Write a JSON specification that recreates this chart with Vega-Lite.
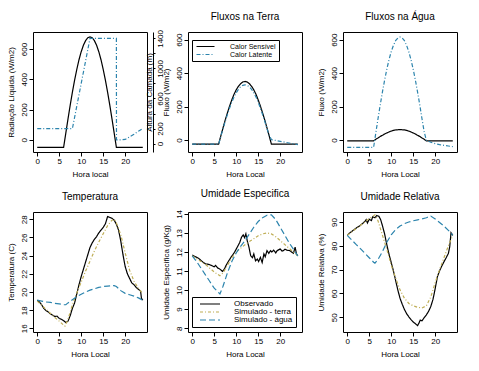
{
"$schema": "https://vega.github.io/schema/vega-lite/v6.json",
"padding": {"left": 6, "top": 11, "right": 5, "bottom": 5},
"background": "white",
"bounds": "flush",
"columns": 3,
"spacing": {"row": 60, "column": 41},
"resolve": {"scale": {"color": "independent", "strokeDash": "independent"}, "legend": {"color": "independent", "strokeDash": "independent"}},
"config": {
  "font": "Liberation Sans Narrow, Liberation Sans",
  "numberFormat": "d",
  "view": {"stroke": "black", "strokeWidth": 1},
  "axis": {"domain": false, "grid": false, "tickColor": "black", "tickSize": 4, "tickWidth": 1, "labelColor": "black", "titleColor": "black", "labelFontSize": 8, "titleFontSize": 8, "titleFontWeight": "normal", "labelPadding": 1, "titlePadding": 5},
  "axisY": {"labelAngle": 270},
  "axisX": {"labelAngle": 0},
  "title": {"fontSize": 10, "fontWeight": "normal", "color": "black", "offset": 10},
  "line": {"strokeWidth": 1.2}
},
"datasets": {
  "p1a": [
    {"h":0,"v":-50},{"h":1,"v":-50},{"h":2,"v":-50},{"h":3,"v":-50},{"h":4,"v":-50},{"h":5,"v":-50},{"h":6,"v":-50},
    {"h":6.5,"v":45},{"h":7,"v":139},{"h":7.5,"v":229},{"h":8,"v":315},{"h":8.5,"v":394},{"h":9,"v":466},{"h":9.5,"v":529},
    {"h":10,"v":582},{"h":10.5,"v":624},{"h":11,"v":655},{"h":11.5,"v":674},{"h":12,"v":680},{"h":12.5,"v":674},{"h":13,"v":655},
    {"h":13.5,"v":624},{"h":14,"v":582},{"h":14.5,"v":529},{"h":15,"v":466},{"h":15.5,"v":394},{"h":16,"v":315},{"h":16.5,"v":229},
    {"h":17,"v":139},{"h":17.5,"v":45},{"h":18,"v":-50},{"h":19,"v":-50},{"h":20,"v":-50},{"h":21,"v":-50},{"h":22,"v":-50},{"h":23,"v":-50},{"h":24,"v":-50}
  ],
  "p1b": [
    {"h":0,"v":200},{"h":1,"v":200},{"h":2,"v":200},{"h":3,"v":200},{"h":4,"v":200},{"h":5,"v":200},{"h":6,"v":200},{"h":7,"v":200},{"h":8,"v":200},
    {"h":9,"v":500},{"h":10,"v":800},{"h":11,"v":1100},{"h":12,"v":1400},{"h":13,"v":1400},{"h":14,"v":1400},{"h":15,"v":1400},{"h":16,"v":1400},{"h":17,"v":1400},{"h":18,"v":1400},
    {"h":18.02,"v":50},{"h":19,"v":50},{"h":20,"v":55},{"h":21,"v":90},{"h":22,"v":125},{"h":23,"v":165},{"h":24,"v":200}
  ],
  "p2": [
    {"h":0,"v":-25,"s":"Calor Sensível"},{"h":1,"v":-25,"s":"Calor Sensível"},{"h":2,"v":-25,"s":"Calor Sensível"},{"h":3,"v":-25,"s":"Calor Sensível"},{"h":4,"v":-25,"s":"Calor Sensível"},{"h":5,"v":-25,"s":"Calor Sensível"},{"h":6,"v":-25,"s":"Calor Sensível"},
    {"h":6.5,"v":24,"s":"Calor Sensível"},{"h":7,"v":72,"s":"Calor Sensível"},{"h":7.5,"v":119,"s":"Calor Sensível"},{"h":8,"v":162,"s":"Calor Sensível"},{"h":8.5,"v":203,"s":"Calor Sensível"},{"h":9,"v":240,"s":"Calor Sensível"},{"h":9.5,"v":273,"s":"Calor Sensível"},{"h":10,"v":300,"s":"Calor Sensível"},{"h":10.5,"v":321,"s":"Calor Sensível"},{"h":11,"v":337,"s":"Calor Sensível"},{"h":11.5,"v":347,"s":"Calor Sensível"},{"h":12,"v":350,"s":"Calor Sensível"},
    {"h":12.5,"v":347,"s":"Calor Sensível"},{"h":13,"v":337,"s":"Calor Sensível"},{"h":13.5,"v":321,"s":"Calor Sensível"},{"h":14,"v":300,"s":"Calor Sensível"},{"h":14.5,"v":273,"s":"Calor Sensível"},{"h":15,"v":240,"s":"Calor Sensível"},{"h":15.5,"v":203,"s":"Calor Sensível"},{"h":16,"v":162,"s":"Calor Sensível"},{"h":16.5,"v":119,"s":"Calor Sensível"},{"h":17,"v":72,"s":"Calor Sensível"},{"h":17.5,"v":24,"s":"Calor Sensível"},
    {"h":18,"v":-25,"s":"Calor Sensível"},{"h":19,"v":-25,"s":"Calor Sensível"},{"h":20,"v":-25,"s":"Calor Sensível"},{"h":21,"v":-25,"s":"Calor Sensível"},{"h":22,"v":-25,"s":"Calor Sensível"},{"h":23,"v":-25,"s":"Calor Sensível"},{"h":24,"v":-25,"s":"Calor Sensível"},
    {"h":0,"v":-25,"s":"Calor Latente"},{"h":1,"v":-25,"s":"Calor Latente"},{"h":2,"v":-25,"s":"Calor Latente"},{"h":3,"v":-25,"s":"Calor Latente"},{"h":4,"v":-25,"s":"Calor Latente"},{"h":5,"v":-25,"s":"Calor Latente"},{"h":6,"v":-25,"s":"Calor Latente"},
    {"h":6.5,"v":21,"s":"Calor Latente"},{"h":7,"v":67,"s":"Calor Latente"},{"h":7.5,"v":111,"s":"Calor Latente"},{"h":8,"v":152,"s":"Calor Latente"},{"h":8.5,"v":191,"s":"Calor Latente"},{"h":9,"v":226,"s":"Calor Latente"},{"h":9.5,"v":257,"s":"Calor Latente"},{"h":10,"v":282,"s":"Calor Latente"},{"h":10.5,"v":303,"s":"Calor Latente"},{"h":11,"v":318,"s":"Calor Latente"},{"h":11.5,"v":327,"s":"Calor Latente"},{"h":12,"v":330,"s":"Calor Latente"},
    {"h":12.5,"v":327,"s":"Calor Latente"},{"h":13,"v":318,"s":"Calor Latente"},{"h":13.5,"v":303,"s":"Calor Latente"},{"h":14,"v":282,"s":"Calor Latente"},{"h":14.5,"v":257,"s":"Calor Latente"},{"h":15,"v":226,"s":"Calor Latente"},{"h":15.5,"v":191,"s":"Calor Latente"},{"h":16,"v":152,"s":"Calor Latente"},{"h":16.5,"v":111,"s":"Calor Latente"},{"h":17,"v":67,"s":"Calor Latente"},{"h":17.5,"v":28,"s":"Calor Latente"},
    {"h":18,"v":2,"s":"Calor Latente"},{"h":19,"v":-3,"s":"Calor Latente"},{"h":20,"v":-8,"s":"Calor Latente"},{"h":21,"v":-13,"s":"Calor Latente"},{"h":22,"v":-18,"s":"Calor Latente"},{"h":23,"v":-23,"s":"Calor Latente"},{"h":24,"v":-28,"s":"Calor Latente"}
  ],
  "p3": [
    {"h":0,"v":-5,"s":"Calor Sensível"},{"h":1,"v":-5,"s":"Calor Sensível"},{"h":2,"v":-5,"s":"Calor Sensível"},{"h":3,"v":-5,"s":"Calor Sensível"},{"h":4,"v":-5,"s":"Calor Sensível"},{"h":5,"v":-5,"s":"Calor Sensível"},{"h":6,"v":-5,"s":"Calor Sensível"},
    {"h":6.5,"v":4,"s":"Calor Sensível"},{"h":7,"v":12,"s":"Calor Sensível"},{"h":7.5,"v":21,"s":"Calor Sensível"},{"h":8,"v":28,"s":"Calor Sensível"},{"h":8.5,"v":36,"s":"Calor Sensível"},{"h":9,"v":42,"s":"Calor Sensível"},{"h":9.5,"v":48,"s":"Calor Sensível"},{"h":10,"v":53,"s":"Calor Sensível"},{"h":10.5,"v":57,"s":"Calor Sensível"},{"h":11,"v":60,"s":"Calor Sensível"},{"h":11.5,"v":61,"s":"Calor Sensível"},{"h":12,"v":62,"s":"Calor Sensível"},
    {"h":12.5,"v":61,"s":"Calor Sensível"},{"h":13,"v":60,"s":"Calor Sensível"},{"h":13.5,"v":57,"s":"Calor Sensível"},{"h":14,"v":53,"s":"Calor Sensível"},{"h":14.5,"v":48,"s":"Calor Sensível"},{"h":15,"v":42,"s":"Calor Sensível"},{"h":15.5,"v":36,"s":"Calor Sensível"},{"h":16,"v":28,"s":"Calor Sensível"},{"h":16.5,"v":21,"s":"Calor Sensível"},{"h":17,"v":12,"s":"Calor Sensível"},{"h":17.5,"v":4,"s":"Calor Sensível"},
    {"h":18,"v":-5,"s":"Calor Sensível"},{"h":19,"v":-5,"s":"Calor Sensível"},{"h":20,"v":-5,"s":"Calor Sensível"},{"h":21,"v":-5,"s":"Calor Sensível"},{"h":22,"v":-5,"s":"Calor Sensível"},{"h":23,"v":-5,"s":"Calor Sensível"},{"h":24,"v":-5,"s":"Calor Sensível"},
    {"h":0,"v":-44,"s":"Calor Latente"},{"h":1,"v":-44,"s":"Calor Latente"},{"h":2,"v":-44,"s":"Calor Latente"},{"h":3,"v":-44,"s":"Calor Latente"},{"h":4,"v":-44,"s":"Calor Latente"},{"h":5,"v":-44,"s":"Calor Latente"},{"h":6,"v":-44,"s":"Calor Latente"},
    {"h":6.5,"v":42,"s":"Calor Latente"},{"h":7,"v":127,"s":"Calor Latente"},{"h":7.5,"v":209,"s":"Calor Latente"},{"h":8,"v":286,"s":"Calor Latente"},{"h":8.5,"v":358,"s":"Calor Latente"},{"h":9,"v":423,"s":"Calor Latente"},{"h":9.5,"v":480,"s":"Calor Latente"},{"h":10,"v":528,"s":"Calor Latente"},{"h":10.5,"v":566,"s":"Calor Latente"},{"h":11,"v":594,"s":"Calor Latente"},{"h":11.5,"v":610,"s":"Calor Latente"},{"h":12,"v":616,"s":"Calor Latente"},
    {"h":12.5,"v":610,"s":"Calor Latente"},{"h":13,"v":594,"s":"Calor Latente"},{"h":13.5,"v":566,"s":"Calor Latente"},{"h":14,"v":528,"s":"Calor Latente"},{"h":14.5,"v":480,"s":"Calor Latente"},{"h":15,"v":423,"s":"Calor Latente"},{"h":15.5,"v":358,"s":"Calor Latente"},{"h":16,"v":286,"s":"Calor Latente"},{"h":16.5,"v":209,"s":"Calor Latente"},{"h":17,"v":127,"s":"Calor Latente"},{"h":17.5,"v":48,"s":"Calor Latente"},
    {"h":18,"v":-2,"s":"Calor Latente"},{"h":19,"v":-14,"s":"Calor Latente"},{"h":20,"v":-22,"s":"Calor Latente"},{"h":21,"v":-28,"s":"Calor Latente"},{"h":22,"v":-32,"s":"Calor Latente"},{"h":23,"v":-36,"s":"Calor Latente"},{"h":24,"v":-40,"s":"Calor Latente"}
  ],
  "p4": [
    {"h":0,"v":19.1,"s":"Observado"},{"h":0.5,"v":18.9,"s":"Observado"},{"h":1,"v":18.6,"s":"Observado"},{"h":1.5,"v":18.2,"s":"Observado"},{"h":2,"v":17.95,"s":"Observado"},{"h":2.5,"v":17.8,"s":"Observado"},{"h":3,"v":17.6,"s":"Observado"},{"h":3.5,"v":17.45,"s":"Observado"},{"h":4,"v":17.3,"s":"Observado"},{"h":4.5,"v":17.35,"s":"Observado"},{"h":5,"v":17.1,"s":"Observado"},{"h":5.5,"v":17.0,"s":"Observado"},{"h":6,"v":16.85,"s":"Observado"},{"h":6.5,"v":16.65,"s":"Observado"},{"h":7,"v":16.8,"s":"Observado"},{"h":7.5,"v":17.4,"s":"Observado"},{"h":8,"v":18.2,"s":"Observado"},{"h":8.5,"v":18.8,"s":"Observado"},{"h":9,"v":19.8,"s":"Observado"},{"h":9.5,"v":20.8,"s":"Observado"},{"h":10,"v":21.7,"s":"Observado"},{"h":10.5,"v":22.5,"s":"Observado"},{"h":11,"v":23.3,"s":"Observado"},{"h":11.5,"v":24.1,"s":"Observado"},{"h":12,"v":24.9,"s":"Observado"},{"h":12.5,"v":25.4,"s":"Observado"},{"h":13,"v":25.8,"s":"Observado"},{"h":13.5,"v":26.1,"s":"Observado"},{"h":14,"v":26.5,"s":"Observado"},{"h":14.5,"v":26.8,"s":"Observado"},{"h":15,"v":27.1,"s":"Observado"},{"h":15.5,"v":27.5,"s":"Observado"},{"h":16,"v":28.3,"s":"Observado"},{"h":16.5,"v":28.2,"s":"Observado"},{"h":17,"v":28.1,"s":"Observado"},{"h":17.5,"v":27.9,"s":"Observado"},{"h":18,"v":27.45,"s":"Observado"},{"h":18.5,"v":26.8,"s":"Observado"},{"h":19,"v":25.6,"s":"Observado"},{"h":19.5,"v":24.1,"s":"Observado"},{"h":20,"v":22.8,"s":"Observado"},{"h":20.5,"v":22.0,"s":"Observado"},{"h":21,"v":21.5,"s":"Observado"},{"h":21.5,"v":21.0,"s":"Observado"},{"h":22,"v":20.8,"s":"Observado"},{"h":22.5,"v":20.5,"s":"Observado"},{"h":23,"v":20.3,"s":"Observado"},{"h":23.5,"v":20.1,"s":"Observado"},{"h":23.7,"v":19.3,"s":"Observado"},{"h":24,"v":19.1,"s":"Observado"},
    {"h":0,"v":19.0,"s":"Simulado - terra"},{"h":1,"v":18.55,"s":"Simulado - terra"},{"h":2,"v":18.1,"s":"Simulado - terra"},{"h":3,"v":17.65,"s":"Simulado - terra"},{"h":4,"v":17.2,"s":"Simulado - terra"},{"h":5,"v":16.8,"s":"Simulado - terra"},{"h":6,"v":16.35,"s":"Simulado - terra"},{"h":6.3,"v":16.25,"s":"Simulado - terra"},{"h":7,"v":17.0,"s":"Simulado - terra"},{"h":8,"v":18.6,"s":"Simulado - terra"},{"h":9,"v":19.9,"s":"Simulado - terra"},{"h":10,"v":21.1,"s":"Simulado - terra"},{"h":11,"v":22.3,"s":"Simulado - terra"},{"h":12,"v":23.4,"s":"Simulado - terra"},{"h":13,"v":24.5,"s":"Simulado - terra"},{"h":14,"v":25.5,"s":"Simulado - terra"},{"h":15,"v":26.4,"s":"Simulado - terra"},{"h":16,"v":27.3,"s":"Simulado - terra"},{"h":17,"v":27.9,"s":"Simulado - terra"},{"h":17.5,"v":28.0,"s":"Simulado - terra"},{"h":18,"v":27.6,"s":"Simulado - terra"},{"h":19,"v":26.3,"s":"Simulado - terra"},{"h":20,"v":24.3,"s":"Simulado - terra"},{"h":21,"v":22.4,"s":"Simulado - terra"},{"h":22,"v":21.2,"s":"Simulado - terra"},{"h":23,"v":20.4,"s":"Simulado - terra"},{"h":24,"v":19.8,"s":"Simulado - terra"},
    {"h":0,"v":19.1,"s":"Simulado - água"},{"h":1,"v":19.0,"s":"Simulado - água"},{"h":2,"v":18.9,"s":"Simulado - água"},{"h":3,"v":18.85,"s":"Simulado - água"},{"h":4,"v":18.75,"s":"Simulado - água"},{"h":5,"v":18.7,"s":"Simulado - água"},{"h":6,"v":18.6,"s":"Simulado - água"},{"h":6.5,"v":18.6,"s":"Simulado - água"},{"h":7,"v":18.8,"s":"Simulado - água"},{"h":8,"v":19.15,"s":"Simulado - água"},{"h":9,"v":19.5,"s":"Simulado - água"},{"h":10,"v":19.75,"s":"Simulado - água"},{"h":11,"v":20.0,"s":"Simulado - água"},{"h":12,"v":20.2,"s":"Simulado - água"},{"h":13,"v":20.35,"s":"Simulado - água"},{"h":14,"v":20.5,"s":"Simulado - água"},{"h":15,"v":20.6,"s":"Simulado - água"},{"h":16,"v":20.65,"s":"Simulado - água"},{"h":17,"v":20.7,"s":"Simulado - água"},{"h":17.5,"v":20.7,"s":"Simulado - água"},{"h":18,"v":20.6,"s":"Simulado - água"},{"h":19,"v":20.15,"s":"Simulado - água"},{"h":20,"v":19.85,"s":"Simulado - água"},{"h":21,"v":19.7,"s":"Simulado - água"},{"h":22,"v":19.55,"s":"Simulado - água"},{"h":23,"v":19.35,"s":"Simulado - água"},{"h":24,"v":19.1,"s":"Simulado - água"}
  ],
  "p5": [
    {"h":0,"v":11.84,"s":"Observado"},{"h":0.5,"v":11.78,"s":"Observado"},{"h":1,"v":11.72,"s":"Observado"},{"h":1.5,"v":11.66,"s":"Observado"},{"h":2,"v":11.55,"s":"Observado"},{"h":2.5,"v":11.46,"s":"Observado"},{"h":3,"v":11.38,"s":"Observado"},{"h":3.5,"v":11.36,"s":"Observado"},{"h":4,"v":11.33,"s":"Observado"},{"h":4.5,"v":11.28,"s":"Observado"},{"h":5,"v":11.22,"s":"Observado"},{"h":5.3,"v":11.3,"s":"Observado"},{"h":5.8,"v":11.16,"s":"Observado"},{"h":6.3,"v":11.1,"s":"Observado"},{"h":6.9,"v":10.98,"s":"Observado"},{"h":7.3,"v":11.1,"s":"Observado"},{"h":7.7,"v":11.3,"s":"Observado"},{"h":8.1,"v":11.46,"s":"Observado"},{"h":8.8,"v":11.72,"s":"Observado"},{"h":9.6,"v":11.98,"s":"Observado"},{"h":10.3,"v":12.28,"s":"Observado"},{"h":10.8,"v":12.5,"s":"Observado"},{"h":11.2,"v":12.77,"s":"Observado"},{"h":11.6,"v":12.9,"s":"Observado"},{"h":11.9,"v":12.75,"s":"Observado"},{"h":12.2,"v":12.95,"s":"Observado"},{"h":12.5,"v":12.6,"s":"Observado"},{"h":12.9,"v":12.25,"s":"Observado"},{"h":13.3,"v":11.8,"s":"Observado"},{"h":13.7,"v":11.7,"s":"Observado"},{"h":14,"v":11.9,"s":"Observado"},{"h":14.4,"v":11.54,"s":"Observado"},{"h":14.8,"v":11.63,"s":"Observado"},{"h":15.1,"v":11.5,"s":"Observado"},{"h":15.5,"v":11.72,"s":"Observado"},{"h":15.9,"v":11.45,"s":"Observado"},{"h":16.3,"v":11.9,"s":"Observado"},{"h":16.6,"v":11.75,"s":"Observado"},{"h":17,"v":12.07,"s":"Observado"},{"h":17.4,"v":11.93,"s":"Observado"},{"h":17.8,"v":12.07,"s":"Observado"},{"h":18.1,"v":12.0,"s":"Observado"},{"h":18.5,"v":12.1,"s":"Observado"},{"h":19,"v":11.95,"s":"Observado"},{"h":19.3,"v":12.07,"s":"Observado"},{"h":20,"v":12.16,"s":"Observado"},{"h":20.4,"v":12.05,"s":"Observado"},{"h":20.7,"v":12.07,"s":"Observado"},{"h":21.1,"v":12.15,"s":"Observado"},{"h":21.5,"v":12.1,"s":"Observado"},{"h":22.2,"v":12.07,"s":"Observado"},{"h":22.6,"v":12.0,"s":"Observado"},{"h":23,"v":11.93,"s":"Observado"},{"h":23.4,"v":12.25,"s":"Observado"},{"h":23.7,"v":11.9,"s":"Observado"},{"h":24,"v":11.8,"s":"Observado"},
    {"h":0,"v":11.8,"s":"Simulado - terra"},{"h":1,"v":11.65,"s":"Simulado - terra"},{"h":2,"v":11.5,"s":"Simulado - terra"},{"h":3,"v":11.35,"s":"Simulado - terra"},{"h":4,"v":11.15,"s":"Simulado - terra"},{"h":5,"v":10.95,"s":"Simulado - terra"},{"h":6.3,"v":10.75,"s":"Simulado - terra"},{"h":7,"v":10.9,"s":"Simulado - terra"},{"h":8,"v":11.3,"s":"Simulado - terra"},{"h":9,"v":11.7,"s":"Simulado - terra"},{"h":10,"v":12.0,"s":"Simulado - terra"},{"h":11,"v":12.2,"s":"Simulado - terra"},{"h":12,"v":12.38,"s":"Simulado - terra"},{"h":13,"v":12.55,"s":"Simulado - terra"},{"h":14,"v":12.7,"s":"Simulado - terra"},{"h":15,"v":12.85,"s":"Simulado - terra"},{"h":16,"v":12.95,"s":"Simulado - terra"},{"h":17,"v":13.0,"s":"Simulado - terra"},{"h":18,"v":12.95,"s":"Simulado - terra"},{"h":19,"v":12.8,"s":"Simulado - terra"},{"h":20,"v":12.6,"s":"Simulado - terra"},{"h":21,"v":12.4,"s":"Simulado - terra"},{"h":22,"v":12.2,"s":"Simulado - terra"},{"h":23,"v":12.0,"s":"Simulado - terra"},{"h":24,"v":11.8,"s":"Simulado - terra"},
    {"h":0,"v":11.8,"s":"Simulado - água"},{"h":1,"v":11.5,"s":"Simulado - água"},{"h":2,"v":11.15,"s":"Simulado - água"},{"h":3,"v":10.8,"s":"Simulado - água"},{"h":4,"v":10.45,"s":"Simulado - água"},{"h":5,"v":10.1,"s":"Simulado - água"},{"h":6.3,"v":9.8,"s":"Simulado - água"},{"h":7,"v":10.2,"s":"Simulado - água"},{"h":8,"v":10.9,"s":"Simulado - água"},{"h":9,"v":11.5,"s":"Simulado - água"},{"h":10,"v":11.95,"s":"Simulado - água"},{"h":11,"v":12.3,"s":"Simulado - água"},{"h":12,"v":12.6,"s":"Simulado - água"},{"h":13,"v":12.95,"s":"Simulado - água"},{"h":14,"v":13.3,"s":"Simulado - água"},{"h":15,"v":13.6,"s":"Simulado - água"},{"h":16,"v":13.8,"s":"Simulado - água"},{"h":17,"v":13.93,"s":"Simulado - água"},{"h":18,"v":13.95,"s":"Simulado - água"},{"h":19,"v":13.7,"s":"Simulado - água"},{"h":20,"v":13.3,"s":"Simulado - água"},{"h":21,"v":12.9,"s":"Simulado - água"},{"h":22,"v":12.5,"s":"Simulado - água"},{"h":23,"v":12.15,"s":"Simulado - água"},{"h":24,"v":11.8,"s":"Simulado - água"}
  ],
  "p6": [
    {"h":0,"v":84.4,"s":"Observado"},{"h":0.5,"v":85.3,"s":"Observado"},{"h":1,"v":86.0,"s":"Observado"},{"h":1.5,"v":86.7,"s":"Observado"},{"h":2,"v":87.4,"s":"Observado"},{"h":2.5,"v":88.0,"s":"Observado"},{"h":3,"v":88.6,"s":"Observado"},{"h":3.5,"v":89.4,"s":"Observado"},{"h":4,"v":90.2,"s":"Observado"},{"h":4.3,"v":91.0,"s":"Observado"},{"h":4.6,"v":89.6,"s":"Observado"},{"h":5,"v":91.2,"s":"Observado"},{"h":5.5,"v":90.6,"s":"Observado"},{"h":5.8,"v":92.2,"s":"Observado"},{"h":6.3,"v":91.8,"s":"Observado"},{"h":6.7,"v":92.7,"s":"Observado"},{"h":7.2,"v":92.4,"s":"Observado"},{"h":7.6,"v":91.0,"s":"Observado"},{"h":8,"v":88.5,"s":"Observado"},{"h":8.5,"v":85.0,"s":"Observado"},{"h":9,"v":80.5,"s":"Observado"},{"h":9.5,"v":76.5,"s":"Observado"},{"h":10,"v":73.0,"s":"Observado"},{"h":10.5,"v":69.5,"s":"Observado"},{"h":11,"v":65.5,"s":"Observado"},{"h":11.5,"v":61.5,"s":"Observado"},{"h":12,"v":58.0,"s":"Observado"},{"h":12.5,"v":55.5,"s":"Observado"},{"h":13,"v":53.3,"s":"Observado"},{"h":13.5,"v":51.5,"s":"Observado"},{"h":14,"v":50.2,"s":"Observado"},{"h":14.5,"v":49.0,"s":"Observado"},{"h":15,"v":48.0,"s":"Observado"},{"h":15.5,"v":47.3,"s":"Observado"},{"h":16,"v":46.5,"s":"Observado"},{"h":16.3,"v":47.5,"s":"Observado"},{"h":16.6,"v":48.8,"s":"Observado"},{"h":17,"v":48.5,"s":"Observado"},{"h":17.5,"v":49.8,"s":"Observado"},{"h":18,"v":51.0,"s":"Observado"},{"h":18.5,"v":52.5,"s":"Observado"},{"h":19,"v":54.5,"s":"Observado"},{"h":19.5,"v":57.5,"s":"Observado"},{"h":20,"v":62.0,"s":"Observado"},{"h":20.5,"v":67.0,"s":"Observado"},{"h":21,"v":69.5,"s":"Observado"},{"h":21.5,"v":71.5,"s":"Observado"},{"h":22,"v":73.3,"s":"Observado"},{"h":22.5,"v":75.0,"s":"Observado"},{"h":23,"v":76.8,"s":"Observado"},{"h":23.3,"v":79.5,"s":"Observado"},{"h":23.6,"v":85.5,"s":"Observado"},{"h":24,"v":84.4,"s":"Observado"},
    {"h":0,"v":84.4,"s":"Simulado - terra"},{"h":1,"v":85.8,"s":"Simulado - terra"},{"h":2,"v":87.2,"s":"Simulado - terra"},{"h":3,"v":88.6,"s":"Simulado - terra"},{"h":4,"v":90.0,"s":"Simulado - terra"},{"h":5,"v":91.4,"s":"Simulado - terra"},{"h":6,"v":92.6,"s":"Simulado - terra"},{"h":6.3,"v":93.0,"s":"Simulado - terra"},{"h":7,"v":90.5,"s":"Simulado - terra"},{"h":8,"v":84.5,"s":"Simulado - terra"},{"h":9,"v":78.5,"s":"Simulado - terra"},{"h":10,"v":72.0,"s":"Simulado - terra"},{"h":11,"v":66.5,"s":"Simulado - terra"},{"h":12,"v":61.5,"s":"Simulado - terra"},{"h":13,"v":58.0,"s":"Simulado - terra"},{"h":14,"v":55.8,"s":"Simulado - terra"},{"h":15,"v":54.8,"s":"Simulado - terra"},{"h":16,"v":54.2,"s":"Simulado - terra"},{"h":17,"v":53.9,"s":"Simulado - terra"},{"h":18,"v":54.8,"s":"Simulado - terra"},{"h":19,"v":58.5,"s":"Simulado - terra"},{"h":20,"v":64.5,"s":"Simulado - terra"},{"h":21,"v":70.0,"s":"Simulado - terra"},{"h":22,"v":75.0,"s":"Simulado - terra"},{"h":23,"v":80.0,"s":"Simulado - terra"},{"h":24,"v":84.4,"s":"Simulado - terra"},
    {"h":0,"v":84.4,"s":"Simulado - água"},{"h":1,"v":82.5,"s":"Simulado - água"},{"h":2,"v":80.6,"s":"Simulado - água"},{"h":3,"v":78.8,"s":"Simulado - água"},{"h":4,"v":76.9,"s":"Simulado - água"},{"h":5,"v":75.0,"s":"Simulado - água"},{"h":6,"v":73.1,"s":"Simulado - água"},{"h":6.3,"v":72.7,"s":"Simulado - água"},{"h":7,"v":74.3,"s":"Simulado - água"},{"h":8,"v":77.5,"s":"Simulado - água"},{"h":9,"v":81.5,"s":"Simulado - água"},{"h":10,"v":84.6,"s":"Simulado - água"},{"h":11,"v":86.8,"s":"Simulado - água"},{"h":12,"v":88.3,"s":"Simulado - água"},{"h":13,"v":89.3,"s":"Simulado - água"},{"h":14,"v":90.0,"s":"Simulado - água"},{"h":15,"v":90.5,"s":"Simulado - água"},{"h":16,"v":90.9,"s":"Simulado - água"},{"h":17,"v":91.3,"s":"Simulado - água"},{"h":18,"v":91.8,"s":"Simulado - água"},{"h":19,"v":92.5,"s":"Simulado - água"},{"h":20,"v":91.3,"s":"Simulado - água"},{"h":21,"v":89.8,"s":"Simulado - água"},{"h":22,"v":88.3,"s":"Simulado - água"},{"h":23,"v":86.5,"s":"Simulado - água"},{"h":24,"v":84.4,"s":"Simulado - água"}
  ]
},
"concat": [
  {
    "width": 114, "height": 120,
    "layer": [
      {"data": {"name": "p1a"}, "mark": {"type": "line", "color": "black"},
       "encoding": {
         "x": {"field": "h", "type": "quantitative", "scale": {"domain": [-0.96, 24.96], "nice": false, "zero": false}, "axis": {"title": "Hora local", "values": [0,5,10,15,20]}},
         "y": {"field": "v", "type": "quantitative", "scale": {"domain": [-80, 712], "nice": false, "zero": false}, "axis": {"title": "Radiação Líquida (W/m2)", "values": [0,200,400,600]}}
       }},
      {"data": {"name": "p1b"}, "mark": {"type": "line", "color": "#2c84ad", "strokeDash": [4,2,1,2]},
       "encoding": {
         "x": {"field": "h", "type": "quantitative", "scale": {"domain": [-0.96, 24.96], "nice": false, "zero": false}, "axis": {"title": "Hora local", "values": [0,5,10,15,20]}},
         "y": {"field": "v", "type": "quantitative", "scale": {"domain": [-112, 1485], "nice": false, "zero": false},
               "axis": {"orient": "right", "title": "Altura da Camada (m)", "values": [0,200,400,600,800,1000,1200,1400],
                        "labelExpr": "datum.value == 400 || datum.value == 800 || datum.value == 1200 ? '' : datum.label",
                        "offset": 6, "domain": true, "domainColor": "black", "tickSize": 2,
                        "titleAngle": 270, "titleX": -4, "titleY": 60, "titleBaseline": "middle", "titleAlign": "center"}}
       }}
    ],
    "resolve": {"scale": {"y": "independent"}}
  },
  {
    "width": 114, "height": 120,
    "title": "Fluxos na Terra",
    "data": {"name": "p2"},
    "mark": {"type": "line"},
    "encoding": {
      "x": {"field": "h", "type": "quantitative", "scale": {"domain": [-0.96, 24.96], "nice": false, "zero": false}, "axis": {"title": "Hora Local", "values": [0,5,10,15,20]}},
      "y": {"field": "v", "type": "quantitative", "scale": {"domain": [-72, 646], "nice": false, "zero": false}, "axis": {"title": "Fluxo (W/m2)", "values": [0,200,400,600]}},
      "color": {"field": "s", "type": "nominal", "scale": {"domain": ["Calor Sensível", "Calor Latente"], "range": ["black", "#2c84ad"]},
        "legend": {"title": null, "orient": "none", "legendX": 4, "legendY": 8, "fillColor": "white", "strokeColor": "black", "padding": 3, "rowPadding": 0, "labelFontSize": 7, "symbolType": "M-4.5,0H4.5", "symbolSize": 16, "symbolStrokeWidth": 1.2, "symbolOffset": 7, "labelOffset": 21, "labelExpr": "datum.label + '             '"}},
      "strokeDash": {"field": "s", "type": "nominal", "scale": {"domain": ["Calor Sensível", "Calor Latente"], "range": [[1,0],[4,2,1,2]]},
        "legend": {"title": null, "orient": "none", "legendX": 4, "legendY": 8, "fillColor": "white", "strokeColor": "black", "padding": 3, "rowPadding": 0, "labelFontSize": 7, "symbolType": "M-4.5,0H4.5", "symbolSize": 16, "symbolStrokeWidth": 1.2, "symbolOffset": 7, "labelOffset": 21, "labelExpr": "datum.label + '             '"}}
    }
  },
  {
    "width": 114, "height": 120,
    "title": "Fluxos na Água",
    "data": {"name": "p3"},
    "mark": {"type": "line"},
    "encoding": {
      "x": {"field": "h", "type": "quantitative", "scale": {"domain": [-0.96, 24.96], "nice": false, "zero": false}, "axis": {"title": "Hora Local", "values": [0,5,10,15,20]}},
      "y": {"field": "v", "type": "quantitative", "scale": {"domain": [-72, 646], "nice": false, "zero": false}, "axis": {"title": "Fluxo (W/m2)", "values": [0,200,400,600]}},
      "color": {"field": "s", "type": "nominal", "scale": {"domain": ["Calor Sensível", "Calor Latente"], "range": ["black", "#2c84ad"]}, "legend": null},
      "strokeDash": {"field": "s", "type": "nominal", "scale": {"domain": ["Calor Sensível", "Calor Latente"], "range": [[1,0],[4,2,1,2]]}, "legend": null}
    }
  },
  {
    "width": 114, "height": 120,
    "title": "Temperatura",
    "data": {"name": "p4"},
    "mark": {"type": "line"},
    "encoding": {
      "x": {"field": "h", "type": "quantitative", "scale": {"domain": [-0.96, 24.96], "nice": false, "zero": false}, "axis": {"title": "Hora Local", "values": [0,5,10,15,20]}},
      "y": {"field": "v", "type": "quantitative", "scale": {"domain": [15.6, 28.8], "nice": false, "zero": false}, "axis": {"title": "Temperatura (C)", "values": [16,18,20,22,24,26,28]}},
      "color": {"field": "s", "type": "nominal", "scale": {"domain": ["Observado", "Simulado - terra", "Simulado - água"], "range": ["black", "#bfae55", "#2c84ad"]}, "legend": null},
      "strokeDash": {"field": "s", "type": "nominal", "scale": {"domain": ["Observado", "Simulado - terra", "Simulado - água"], "range": [[1,0],[3,2,1,2],[6,3]]}, "legend": null}
    }
  },
  {
    "width": 114, "height": 120,
    "title": "Umidade Especifica",
    "data": {"name": "p5"},
    "mark": {"type": "line"},
    "encoding": {
      "x": {"field": "h", "type": "quantitative", "scale": {"domain": [-0.96, 24.96], "nice": false, "zero": false}, "axis": {"title": "Hora Local", "values": [0,5,10,15,20]}},
      "y": {"field": "v", "type": "quantitative", "scale": {"domain": [7.8, 14.1], "nice": false, "zero": false}, "axis": {"title": "Umidade Especifica (g/Kg)", "values": [8,9,10,11,12,13,14]}},
      "color": {"field": "s", "type": "nominal", "scale": {"domain": ["Observado", "Simulado - terra", "Simulado - água"], "range": ["black", "#bfae55", "#2c84ad"]},
        "legend": {"title": null, "orient": "none", "legendX": 4, "legendY": 85, "fillColor": "white", "strokeColor": "black", "padding": 3, "rowPadding": 0, "labelFontSize": 8, "symbolType": "M-5,0H5", "symbolSize": 16, "symbolStrokeWidth": 1.2, "symbolOffset": 11, "labelOffset": 20, "labelExpr": "datum.label + '          '"}},
      "strokeDash": {"field": "s", "type": "nominal", "scale": {"domain": ["Observado", "Simulado - terra", "Simulado - água"], "range": [[1,0],[3,2,1,2],[6,3]]},
        "legend": {"title": null, "orient": "none", "legendX": 4, "legendY": 85, "fillColor": "white", "strokeColor": "black", "padding": 3, "rowPadding": 0, "labelFontSize": 8, "symbolType": "M-5,0H5", "symbolSize": 16, "symbolStrokeWidth": 1.2, "symbolOffset": 11, "labelOffset": 20, "labelExpr": "datum.label + '          '"}}
    }
  },
  {
    "width": 114, "height": 120,
    "title": "Umidade Relativa",
    "data": {"name": "p6"},
    "mark": {"type": "line"},
    "encoding": {
      "x": {"field": "h", "type": "quantitative", "scale": {"domain": [-0.96, 24.96], "nice": false, "zero": false}, "axis": {"title": "Hora Local", "values": [0,5,10,15,20]}},
      "y": {"field": "v", "type": "quantitative", "scale": {"domain": [43.8, 94.2], "nice": false, "zero": false}, "axis": {"title": "Umidade Relativa (%)", "values": [50,60,70,80,90]}},
      "color": {"field": "s", "type": "nominal", "scale": {"domain": ["Observado", "Simulado - terra", "Simulado - água"], "range": ["black", "#bfae55", "#2c84ad"]}, "legend": null},
      "strokeDash": {"field": "s", "type": "nominal", "scale": {"domain": ["Observado", "Simulado - terra", "Simulado - água"], "range": [[1,0],[3,2,1,2],[6,3]]}, "legend": null}
    }
  }
]
}
